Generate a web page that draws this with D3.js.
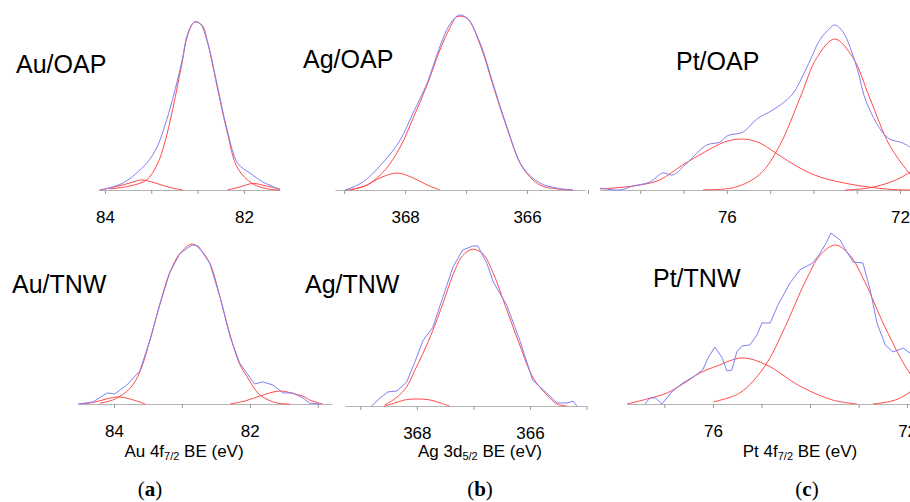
<!DOCTYPE html>
<html>
<head>
<meta charset="utf-8">
<script src="https://cdn.jsdelivr.net/npm/d3@7"></script>
<style>
  body { margin: 0; background: #fff; }
  svg { display: block; font-family: "Liberation Sans", Arial, sans-serif; }
  .title { font-size: 25px; fill: #000; }
  .xlabel { font-size: 17px; fill: #000; }
  .letter { font-family: "Liberation Serif", "DejaVu Serif", serif; font-size: 21px; fill: #000; }
</style>
</head>
<body>
<div id="chart"></div>
<script>
// ---- data: [binding energy (eV), intensity (a.u., 100 = top of panel)] ----

// Au / OAP
var auOapData = [[84.07,0],[83.74,4.2],[83.40,16],[83.25,25.6],[83.14,38],[83.02,55],[82.89,77],[82.81,93],[82.71,100],[82.63,99],[82.52,87.5],[82.39,63.7],[82.24,35.7],[82.09,16],[81.91,10],[81.73,4.8],[81.60,2.4],[81.48,0]];
var auOapMain = [[83.93,0.6],[83.64,2.4],[83.40,6],[83.25,15],[83.14,28],[83.02,49],[82.89,75.6],[82.81,92],[82.71,100],[82.60,98],[82.52,87.5],[82.39,62.5],[82.24,34.5],[82.09,13],[81.87,3.6],[81.65,0.6],[81.48,0]];
var auOapLow = [[84.07,0],[83.86,1.8],[83.64,4.2],[83.47,6],[83.28,4.2],[83.09,1.8],[82.88,0]];
var auOapHigh = [[82.24,0],[82.06,1.8],[81.87,3.9],[81.68,2.4],[81.48,0.6]];

// Ag / OAP
var agOapData = [[368.98,0],[368.69,4.6],[368.33,17],[368.08,28.6],[367.87,44],[367.64,61],[367.43,82],[367.26,95],[367.11,100],[366.98,98],[366.77,84],[366.56,61],[366.33,36],[366.07,13],[365.79,4],[365.51,1.1],[365.25,0]];
var agOapMain = [[368.98,0],[368.85,0.6],[368.62,2.9],[368.33,11.4],[368.08,24.6],[367.87,41],[367.64,60],[367.43,80],[367.26,93],[367.15,99],[366.98,98],[366.77,83],[366.56,60],[366.33,35.4],[366.07,12.6],[365.79,2.9],[365.51,0.6],[365.25,0]];
var agOapSide = [[368.90,0],[368.66,2.3],[368.41,6.9],[368.13,9.7],[367.87,6.9],[367.64,2.9],[367.43,0]];

// Pt / OAP
var ptOapData = [[78.93,1.2],[78.47,0],[78.17,2.4],[77.78,4.8],[77.48,10.3],[77.25,9.1],[76.92,16.4],[76.46,27.3],[76.16,29],[75.98,33],[75.63,35],[75.31,43],[74.94,48.5],[74.50,57.6],[74.15,74.5],[73.85,91],[73.62,98],[73.51,100],[73.32,96],[73.00,74.5],[72.77,52.7],[72.30,32],[71.94,28.5],[71.77,26]];
var ptOapMain = [[76.55,0.1],[75.82,1.6],[75.24,9.5],[74.78,27],[74.31,55.8],[73.92,80.3],[73.51,91.5],[73.09,80.3],[72.70,55.8],[72.24,27],[71.77,9.5]];
var ptOapWide = [[78.93,0.6],[78.47,1.5],[78.01,3.0],[77.55,6.1],[77.02,15.2],[76.51,23],[76.05,29.1],[75.63,30.9],[75.24,28.5],[74.87,22.4],[74.31,13.3],[73.85,7.9],[73.39,4.8],[72.81,2.1],[72.17,0.3],[71.77,0]];
var ptOapLow = [[73.27,0],[72.81,0.9],[72.35,3.6],[72.00,7.3],[71.77,10.9],[71.43,18.2]];

// Au / TNW
var auTnwData = [[84.53,0],[84.31,1.3],[84.10,6.9],[83.99,6.3],[83.81,11.9],[83.62,20.6],[83.47,40],[83.32,63],[83.18,82],[83.03,94],[82.85,99.4],[82.76,98.8],[82.59,88],[82.44,67],[82.29,42],[82.15,25.6],[81.93,12.5],[81.81,13.8],[81.66,11.9],[81.51,6.9],[81.37,6.9],[81.22,3.8],[81.12,0.6],[80.97,0]];
var auTnwMain = [[84.21,0.5],[83.99,3],[83.76,10],[83.62,20],[83.47,40],[83.32,63],[83.18,82],[83.03,94],[82.85,100],[82.74,97],[82.59,88],[82.44,67],[82.29,43],[82.15,25],[82.04,17],[81.85,5.6],[81.60,0.6],[81.41,0]];
var auTnwHigh = [[84.46,0],[84.28,1.2],[84.10,3.3],[83.94,4.4],[83.78,3.3],[83.62,1.2],[83.54,0]];
var auTnwLow = [[82.29,0],[82.07,1.9],[81.85,5],[81.56,8.1],[81.34,6.3],[81.19,4.4],[81.12,2.5],[80.93,0]];

// Ag / TNW
var agTnwData = [[368.80,0],[368.65,5],[368.51,8.8],[368.35,9.4],[368.18,15],[368.04,27],[367.89,41],[367.72,49],[367.54,68],[367.36,87],[367.19,97.5],[367.01,100],[366.92,100],[366.76,89],[366.65,77.5],[366.41,63],[366.18,41],[365.95,16],[365.70,8],[365.52,1.9],[365.35,1.9],[365.24,3],[365.17,0]];
var agTnwMain = [[368.57,0.5],[368.35,5.6],[368.18,12],[368.04,22],[367.89,33],[367.72,47],[367.54,64],[367.36,82],[367.19,94],[367.01,98],[366.83,95],[366.65,83],[366.41,60],[366.18,38],[365.95,18],[365.70,6.9],[365.52,1.2],[365.35,0]];
var agTnwSide = [[368.57,0],[368.39,1.9],[368.21,3.8],[368.00,4.4],[367.77,3.8],[367.59,1.9],[367.42,0]];

// Pt / TNW
var ptTnwData = [[77.40,0],[77.30,3.5],[77.18,3.5],[77.05,0],[76.85,7],[76.62,12.3],[76.41,15.8],[76.21,19.9],[76.10,27],[75.96,33.3],[75.81,27],[75.71,19.3],[75.61,19.9],[75.51,30.4],[75.40,33.9],[75.24,34.5],[75.09,40.4],[74.99,47.4],[74.82,47.4],[74.66,57.9],[74.47,67.8],[74.41,70.8],[74.21,78.4],[73.94,82.5],[73.79,88.3],[73.67,94],[73.57,100],[73.38,95.9],[73.24,88.9],[73.11,83],[72.91,82.5],[72.76,66.7],[72.62,47.4],[72.45,34.5],[72.29,30.4],[72.08,32.7],[71.94,29.8]];
var ptTnwMain = [[76.00,1.2],[75.44,6.6],[74.93,22.1],[74.52,44.7],[74.10,71.4],[73.79,87],[73.48,93],[73.18,87],[72.87,71.4],[72.45,44.7],[71.94,17.9],[71.63,8.7]];
var ptTnwWide = [[77.77,0],[77.36,2.9],[76.95,6.4],[76.62,11.7],[76.27,18.1],[75.92,22.2],[75.40,26.9],[74.89,22.8],[74.21,10.5],[73.53,2.3],[73.03,0]];
var ptTnwLow = [[72.70,0],[72.35,1.5],[72.14,3.5],[71.94,7],[71.63,13]];

// ---- panel layout ----
var panels = [
  { title: "Au/OAP", tx: 16, ty: 73, domain: [84.10, 81.48], range: [98, 280], base: 190, top: 22,
    ticks: [84, 83 + 1/3, 82 + 2/3, 82], labels: [84, 82], data: auOapData, smooth: true,
    fits: [auOapMain, auOapLow, auOapHigh] },
  { title: "Ag/OAP", tx: 303, ty: 68, domain: [369.15, 365.05], range: [335, 585], base: 190, top: 15,
    ticks: [369, 368, 367, 366, 365], labels: [368, 366], data: agOapData, smooth: true,
    fits: [agOapMain, agOapSide] },
  { title: "Pt/OAP", tx: 676, ty: 70, domain: [78.93, 71.77], range: [600, 910], base: 190, top: 25,
    ticks: [78, 77, 76, 75, 74, 73, 72], labels: [76, 72], data: ptOapData, smooth: true,
    fits: [ptOapMain, ptOapWide, ptOapLow] },
  { title: "Au/TNW", tx: 12, ty: 293, domain: [84.53, 80.79], range: [78, 332], base: 404, top: 244,
    ticks: [84, 83, 82, 81], labels: [84, 82], data: auTnwData, smooth: false,
    fits: [auTnwMain, auTnwHigh, auTnwLow],
    xlabel: ["Au 4f", "7/2", " BE (eV)"], lx: 184, letter: "a", cx: 150 },
  { title: "Ag/TNW", tx: 305, ty: 293, domain: [369.27, 365.01], range: [345, 586], base: 406, top: 246,
    ticks: [369, 368, 367, 366, 365], labels: [368, 366], data: agTnwData, smooth: false,
    fits: [agTnwMain, agTnwSide],
    xlabel: ["Ag 3d", "5/2", " BE (eV)"], lx: 480, letter: "b", cx: 480 },
  { title: "Pt/TNW", tx: 653, ty: 287, domain: [77.77, 71.94], range: [627, 910], base: 404, top: 233,
    ticks: [77, 76, 75, 74, 73, 72], labels: [76, 72], data: ptTnwData, smooth: false,
    fits: [ptTnwMain, ptTnwWide, ptTnwLow],
    xlabel: ["Pt 4f", "7/2", " BE (eV)"], lx: 800, letter: "c", cx: 807 }
];

var width = 910, height = 502;

var svg = d3.select("#chart").append("svg")
    .attr("width", width)
    .attr("height", height);

panels.forEach(function(p) {
    var g = svg.append("g");

    var x = d3.scaleLinear().domain(p.domain).range(p.range);
    var y = d3.scaleLinear().domain([0, 100]).range([p.base, p.top]);

    // axis
    var axis = d3.axisBottom(x)
        .tickValues(p.ticks)
        .tickSize(4)
        .tickSizeOuter(0)
        .tickPadding(17)
        .tickFormat(function(d) {
            return p.labels.indexOf(d) >= 0 ? d : "";
        });

    var ax = g.append("g")
        .attr("transform", "translate(0," + p.base + ")")
        .call(axis)
        .attr("font-family", "Liberation Sans, Arial, sans-serif")
        .attr("font-size", 17);
    ax.select(".domain").attr("stroke", "#b4b4b4").attr("stroke-width", 1.2);
    ax.selectAll(".tick line").attr("stroke", "#9a9a9a");
    ax.selectAll(".tick text").attr("fill", "#000");

    var line = d3.line()
        .x(function(d) { return x(d[0]); })
        .y(function(d) { return y(d[1]); });

    // fitted components
    p.fits.forEach(function(f) {
        g.append("path")
            .datum(f)
            .attr("fill", "none")
            .attr("stroke", "#ff4a4a")
            .attr("stroke-width", 1)
            .attr("d", line.curve(d3.curveCatmullRom.alpha(0.5)));
    });

    // measured spectrum
    g.append("path")
        .datum(p.data)
        .attr("fill", "none")
        .attr("stroke", "#7f7ff5")
        .attr("stroke-width", 1)
        .attr("d", line.curve(p.smooth ? d3.curveCatmullRom.alpha(0.5) : d3.curveLinear));

    g.append("text")
        .attr("class", "title")
        .attr("x", p.tx)
        .attr("y", p.ty)
        .text(p.title);

    if (p.xlabel) {
        var t = g.append("text")
            .attr("class", "xlabel")
            .attr("x", p.lx)
            .attr("y", 457)
            .attr("text-anchor", "middle");
        t.append("tspan").text(p.xlabel[0]);
        t.append("tspan").attr("font-size", "11px").attr("dy", 3).text(p.xlabel[1]);
        t.append("tspan").attr("dy", -3).text(p.xlabel[2]);

        var l = g.append("text")
            .attr("class", "letter")
            .attr("x", p.cx)
            .attr("y", 496)
            .attr("text-anchor", "middle");
        l.append("tspan").text("(");
        l.append("tspan").attr("font-weight", "bold").text(p.letter);
        l.append("tspan").text(")");
    }
});
</script>
</body>
</html>
